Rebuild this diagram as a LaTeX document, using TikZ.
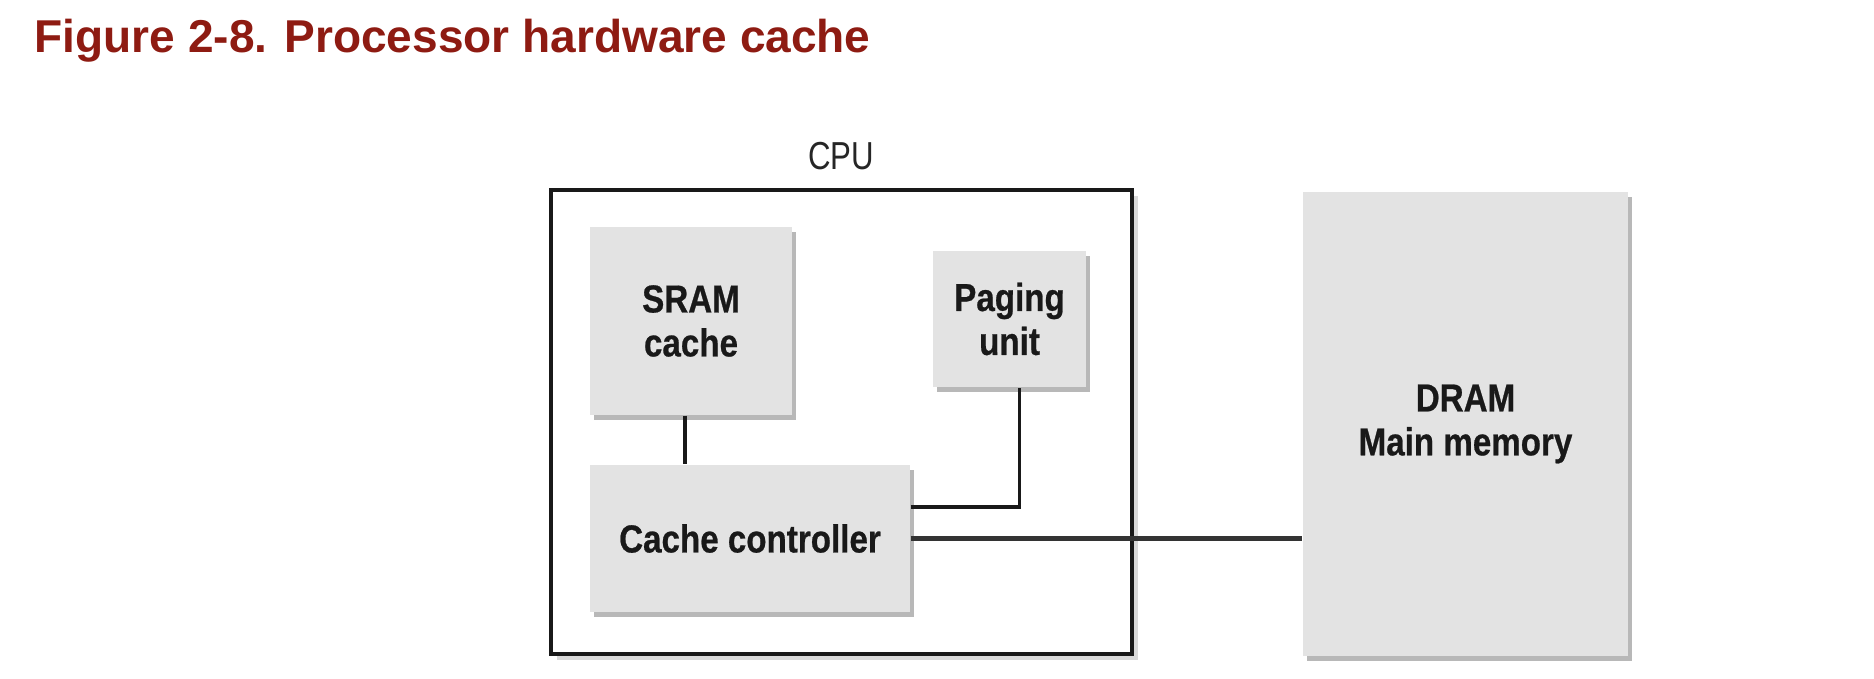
\documentclass[tikz,border=0pt]{standalone}
\usepackage{fontspec}
\usetikzlibrary{shadows}
\setmainfont{Liberation Sans}
\newfontfamily\boxfont[FakeStretch=0.85, FakeBold=0.6]{Liberation Sans}
\newfontfamily\cpufont[FakeStretch=0.8]{Liberation Sans}
\definecolor{titlered}{RGB}{142,27,18}
\definecolor{boxgray}{RGB}{227,227,227}
\tikzset{
	unitbox/.style={fill=boxgray, align=center, inner sep=0pt, text=black!90,
		font=\boxfont\bfseries\fontsize{11.1}{12.5}\selectfont,
		drop shadow={fill=black!28, opacity=1, shadow xshift=0.04cm, shadow yshift=-0.05cm}},
	cpubox/.style={draw=black!90, line width=1.2pt, fill=white, inner sep=0pt,
		drop shadow={fill=black!15, opacity=1, shadow xshift=0.06cm, shadow yshift=-0.06cm}},
	wire/.style={draw=black!90, line width=0.9pt},
	bus/.style={draw=black!80, line width=1.4pt}
}
\begin{document}
\begin{tikzpicture}
	\useasboundingbox (0, 0) rectangle (18.74, 6.78);

	\node[anchor=base west, inner sep=0pt, text=titlered, font=\bfseries\fontsize{13.1}{15}\selectfont]
		(title) at (0.34, 6.25) {Figure 2-8. Processor hardware cache};

	% CPU package
	\node[cpubox, minimum width=5.81cm, minimum height=4.64cm] (cpu) at (8.415, 2.56) {};
	\node[text=black!85, font=\cpufont\fontsize{11.1}{12.5}\selectfont] (cpulabel) at (8.41, 5.22) {CPU};

		\node[unitbox, minimum width=2.02cm, minimum height=1.88cm] (sram) at (6.91, 3.57) {SRAM\\cache};
		\node[unitbox, minimum width=1.53cm, minimum height=1.36cm] (paging) at (10.095, 3.59) {Paging\\unit};
		\node[unitbox, minimum width=3.20cm, minimum height=1.47cm] (ctrl) at (7.50, 1.395) {Cache controller};

	% memory
	\node[unitbox, minimum width=3.25cm, minimum height=4.64cm] (dram) at (14.655, 2.54) {DRAM\\Main memory};

	\draw[wire] ([xshift=-0.06cm]sram.south) -- ([xshift=-0.06cm]sram.south |- ctrl.north);
	\draw[wire] ([yshift=0.315cm]ctrl.east) -| ([xshift=0.1cm]paging.south);
	\draw[bus] (ctrl.east) -- (ctrl.east -| dram.west);

\end{tikzpicture}
\end{document}
